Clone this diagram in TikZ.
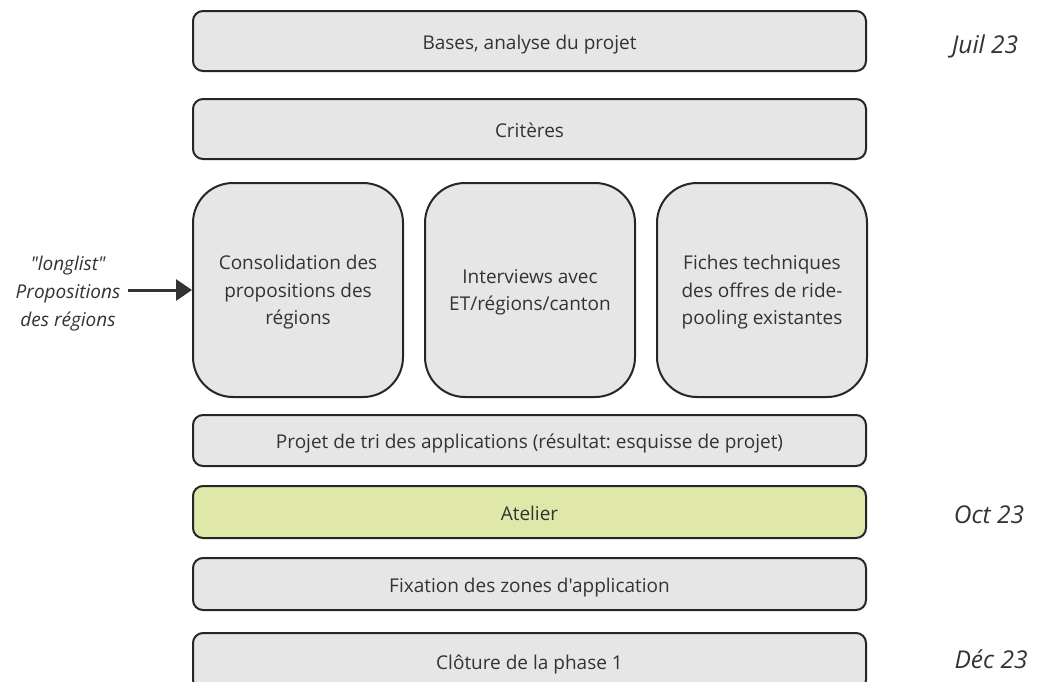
\documentclass[tikz,border=0pt]{standalone}
\usepackage{fontspec}
\setmainfont{Open Sans}[Ligatures=TeXOff]
\frenchspacing
\usetikzlibrary{arrows.meta}
\definecolor{boxfill}{HTML}{E6E6E6}
\definecolor{boxline}{HTML}{262626}
\definecolor{txt}{HTML}{333333}
\definecolor{greenfill}{HTML}{DFE8A9}
\tikzset{
  bar/.style={draw=boxline, line width=2pt, fill=boxfill, rounded corners=10pt,
    minimum width=673pt, inner sep=0pt, text=txt, font=\fontsize{19}{22}\selectfont,
    text height=16pt, text depth=0pt},
  tall/.style={draw=boxline, line width=2pt, fill=boxfill, rounded corners=40pt,
    minimum width=210pt, minimum height=214pt, inner sep=0pt, text=txt, align=center,
    font=\fontsize{19}{27.5}\selectfont, text depth=-2.5pt},
  datelbl/.style={text=txt, font=\itshape\fontsize{24.5}{28}\selectfont, inner sep=0pt,
    anchor=base},
  sidelbl/.style={text=txt, align=center, font=\itshape\fontsize{19}{28}\selectfont, inner sep=0pt},
  arr/.style={draw=txt, line width=3pt, -{Triangle[length=16pt,width=21pt]}}
}
\begin{document}
\begin{tikzpicture}[x=1pt,y=-1pt]
\useasboundingbox (0,0) rectangle (1038,681);
\clip (0,0) rectangle (1038,681);
\fill[white] (0,0) rectangle (1038,681);
\node[bar, minimum height=60pt] (b1) at (529.5,41) {Bases, analyse du projet};
\node[bar, minimum height=60pt] (b2) at (529.5,129) {Critères};
\node[tall] (c1) at (298,290) {Consolidation des\\propositions des\\régions};
\node[tall] (c2) at (530,290) {Interviews avec\\ET/régions/canton};
\node[tall] (c3) at (762,290) {Fiches techniques\\des offres de ride-\\pooling existantes};
\node[bar, minimum height=51pt] (b3) at (529.5,440.5) {Projet de tri des applications (résultat: esquisse de projet)};
\node[bar, minimum height=52pt, fill=greenfill] (at) at (529.5,512) {Atelier};
\node[bar, minimum height=52pt] (fx) at (529.5,584) {Fixation des zones d'application};
\node[bar, minimum height=57pt] (cl) at (529.5,661.5) {Clôture de la phase 1};
\node[datelbl] (d1) at (985,53) {Juil 23};
\node[datelbl] (d2) at (989,523) {Oct 23};
\node[datelbl] (d3) at (991,668) {Déc 23};
\node[sidelbl] (sl) at (68,293.5) {"longlist"\\Propositions\\des régions};
\draw[arr] (sl.east) ++(8pt,0) coordinate (as) (as |- c1.west) -- (c1.west);
\end{tikzpicture}
\end{document}
